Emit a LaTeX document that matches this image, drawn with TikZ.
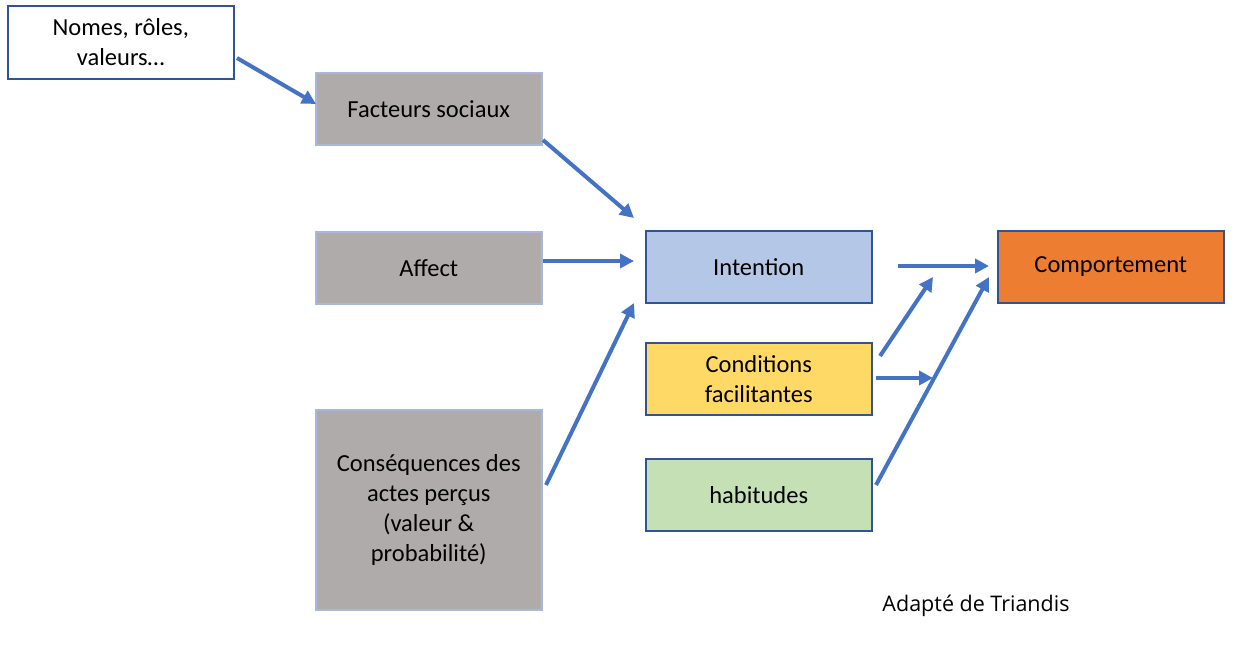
\documentclass[tikz,border=0pt]{standalone}
\usepackage{fontspec}
\setmainfont{Carlito}
\newfontfamily\notefont{Open Sans}
\usetikzlibrary{arrows.meta}
\definecolor{arrowblue}{HTML}{4472C4}
\definecolor{darkblue}{HTML}{2F5597}
\definecolor{graybox}{HTML}{AFABAB}
\definecolor{grayborder}{HTML}{A9B8D8}
\definecolor{intentfill}{HTML}{B4C7E7}
\definecolor{condfill}{HTML}{FFD966}
\definecolor{habfill}{HTML}{C5E0B4}
\definecolor{compfill}{HTML}{ED7D31}
\begin{document}
\begin{tikzpicture}[x=1pt,y=-1pt,
  box/.style={draw, line width=1.5pt, minimum width=226pt, minimum height=72pt,
    inner sep=0pt, align=center, font=\fontsize{24.5}{30}\selectfont, text=black},
  graynode/.style={box, fill=graybox, draw=grayborder},
  bluenode/.style={box, draw=darkblue},
  conn/.style={draw=arrowblue, line width=4pt, -{Triangle[length=14pt,width=14pt]}}
]
\useasboundingbox (0,0) rectangle (1252,645);
\fill[white] (0,0) rectangle (1252,645);

\node[bluenode, fill=white, anchor=north west, minimum height=73pt] (nomes) at (7,5) {Nomes, rôles,\\valeurs…};
\node[graynode, anchor=north west] (fact) at (315,72) {Facteurs sociaux};
\node[graynode, anchor=north west] (affect) at (315,231) {Affect};
\node[graynode, anchor=north west, minimum height=200pt] (cons) at (315,409) {Conséquences des\\actes perçus\\(valeur \&\\probabilité)};
\node[bluenode, fill=intentfill, anchor=north west] (intent) at (645,230) {Intention};
\node[bluenode, fill=condfill, anchor=north west] (cond) at (645,342) {Conditions\\facilitantes};
\node[bluenode, fill=habfill, anchor=north west] (hab) at (645,458) {habitudes};
\node[bluenode, fill=compfill, anchor=north west] (comp) at (997,230) {Comportement};
\node[font=\notefont\fontsize{21.5}{26}\selectfont] (note) at (976,606) {Adapté de Triandis};

\coordinate (n1s) at (237,58);
\coordinate (f1e) at (316,104);
\coordinate (f2s) at (543,140);
\coordinate (i1e) at (634,218);
\coordinate (a1s) at (543,261);
\coordinate (i2e) at (634,261);
\coordinate (c1s) at (546,485);
\coordinate (i3e) at (634,303);
\coordinate (it1s) at (898,266);
\coordinate (cp1e) at (989,266);
\coordinate (cd1s) at (880,356);
\coordinate (m1e) at (933,277);
\coordinate (cd2s) at (876,378);
\coordinate (m2e) at (933,378);
\coordinate (h1s) at (876,485);
\coordinate (cp2e) at (989,277);

\draw[conn] (n1s) -- (f1e);
\draw[conn] (f2s) -- (i1e);
\draw[conn] (a1s) -- (i2e);
\draw[conn] (c1s) -- (i3e);
\draw[conn] (it1s) -- (cp1e);
\draw[conn] (cd1s) -- (m1e);
\draw[conn] (cd2s) -- (m2e);
\draw[conn] (h1s) -- (cp2e);
\end{tikzpicture}
\end{document}
